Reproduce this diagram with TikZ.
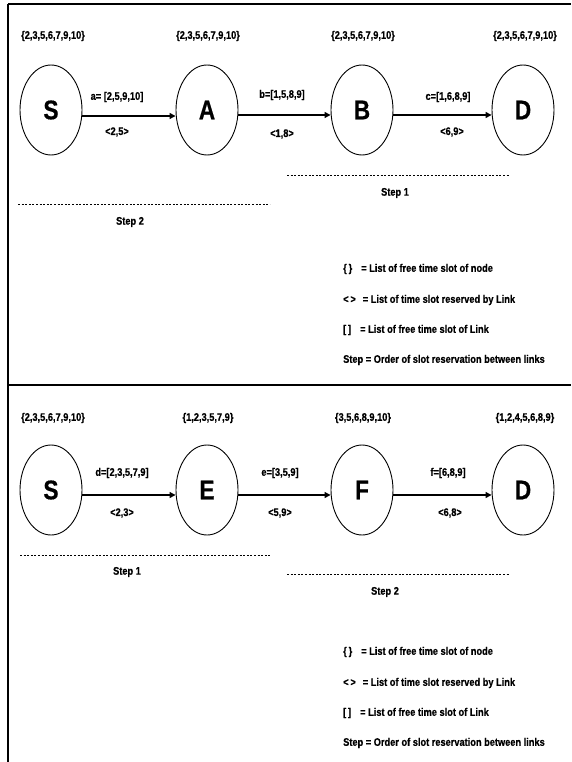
\documentclass[tikz,border=0pt]{standalone}
\usepackage{fontspec}
\setmainfont{Liberation Sans}[FakeStretch=0.84, BoldFeatures={FakeBold=0.6}]
\usetikzlibrary{arrows.meta,shapes.geometric}
\begin{document}
\begin{tikzpicture}[x=1pt,y=-1pt,
  every node/.style={font=\fontsize{11}{13}\selectfont\bfseries, inner sep=0pt},
  vtx/.style={draw, ellipse, line width=0.9pt, minimum width=62pt, minimum height=90pt, font=\fontsize{27}{30}\selectfont\bfseries},
  link/.style={line width=1.2pt, -{Triangle[length=6pt,width=6pt]}},
  stepline/.style={line width=0.8pt, dash pattern=on 2pt off 1.6pt},
  frame/.style={line width=1.5pt},
  lgd/.style={anchor=west}
]
\useasboundingbox (0,0) rectangle (571,762);
% frame
\draw[frame] (8,4) -- (571,4);
\draw[frame] (8,4) -- (8,762);
\draw[frame] (8,385) -- (571,385);

% ---------- top panel ----------
\node[vtx] (S1) at (51,110) {S};
\node[vtx] (A) at (207,110) {A};
\node[vtx] (B) at (362,110) {B};
\node[vtx] (D1) at (523,110) {D};
\node (lS1) at (53,36) {\{2,3,5,6,7,9,10\}};
\node (lA) at (208,36) {\{2,3,5,6,7,9,10\}};
\node (lB) at (363,36) {\{2,3,5,6,7,9,10\}};
\node (lD1) at (525,36) {\{2,3,5,6,7,9,10\}};
\draw[link] (S1.east |- 0,116) -- (A.west |- 0,116);
\draw[link] (A.east |- 0,115) -- (B.west |- 0,115);
\draw[link] (B.east |- 0,115) -- (D1.west |- 0,115);
\node (ea) at (117,97) {a= [2,5,9,10]};
\node (ra) at (117,132) {<2,5>};
\node (eb) at (282,95) {b=[1,5,8,9]};
\node (rb) at (282,134) {<1,8>};
\node (ec) at (448,97) {c=[1,6,8,9]};
\node (rc) at (452,132) {<6,9>};
\draw[stepline] (287,175) -- (510,175);
\node (st1a) at (395,193) {Step 1};
\draw[stepline] (18,204) -- (270,204);
\node (st2a) at (130,222) {Step 2};
\node[lgd] (g1a) at (343,269) {\{\,\}\hspace{9pt}= List of free time slot of node};
\node[lgd] (g2a) at (343,300) {<\,>\hspace{7pt}= List of time slot reserved by Link};
\node[lgd] (g3a) at (343,330) {[\,]\hspace{9pt}= List of free time slot of Link};
\node[lgd] (g4a) at (343,360) {Step = Order of slot reservation between links};

% ---------- bottom panel ----------
\node[vtx] (S2) at (51,490) {S};
\node[vtx] (E) at (207,490) {E};
\node[vtx] (F) at (362,490) {F};
\node[vtx] (D2) at (523,490) {D};
\node (lS2) at (53,418) {\{2,3,5,6,7,9,10\}};
\node (lE) at (208,418) {\{1,2,3,5,7,9\}};
\node (lF) at (363,418) {\{3,5,6,8,9,10\}};
\node (lD2) at (525,418) {\{1,2,4,5,6,8,9\}};
\draw[link] (S2.east |- 0,495) -- (E.west |- 0,495);
\draw[link] (E.east |- 0,495) -- (F.west |- 0,495);
\draw[link] (F.east |- 0,495) -- (D2.west |- 0,495);
\node (ed) at (122,473) {d=[2,3,5,7,9]};
\node (rd) at (122,513) {<2,3>};
\node (ee) at (280,473) {e=[3,5,9]};
\node (re) at (280,513) {<5,9>};
\node (ef) at (448,473) {f=[6,8,9]};
\node (rf) at (450,513) {<6,8>};
\draw[stepline] (20,555) -- (270,555);
\node (st1b) at (127,572) {Step 1};
\draw[stepline] (287,574) -- (510,574);
\node (st2b) at (385,592) {Step 2};
\node[lgd] (g1b) at (343,652) {\{\,\}\hspace{9pt}= List of free time slot of node};
\node[lgd] (g2b) at (343,683) {<\,>\hspace{7pt}= List of time slot reserved by Link};
\node[lgd] (g3b) at (343,713) {[\,]\hspace{9pt}= List of free time slot of Link};
\node[lgd] (g4b) at (343,743) {Step = Order of slot reservation between links};
\end{tikzpicture}
\end{document}
